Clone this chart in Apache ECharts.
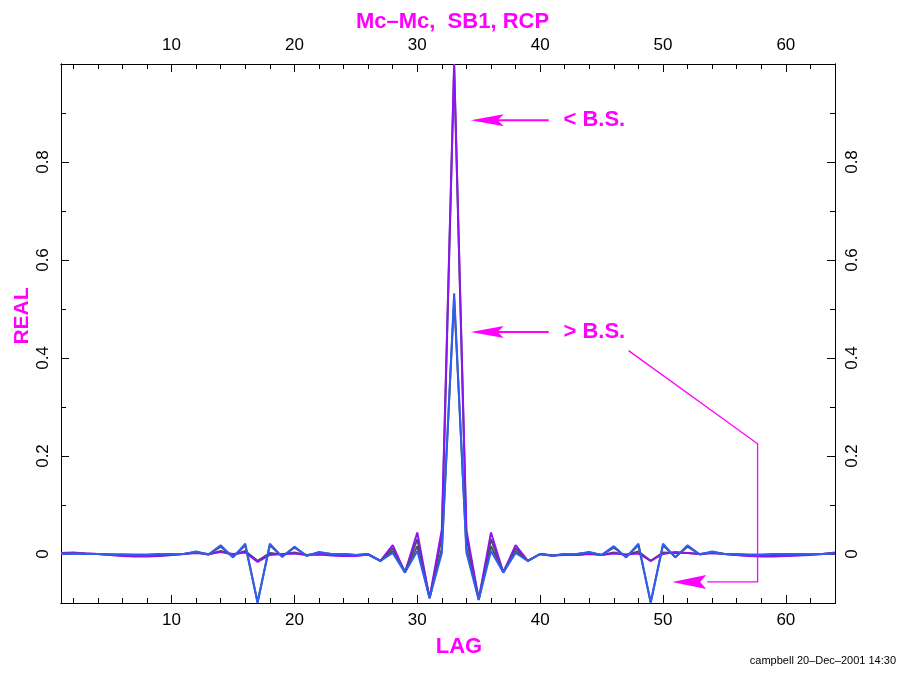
<!DOCTYPE html>
<html>
<head>
<meta charset="utf-8">
<script src="https://cdn.jsdelivr.net/npm/echarts@6/dist/echarts.min.js"></script>
<style>
  html, body { margin: 0; padding: 0; background: #ffffff; }
  #chart { width: 905px; height: 673px; }
</style>
</head>
<body>
<div id="chart"></div>
<script>
// Lag axis (channels 1..64)
const lags = [
  1, 2, 3, 4, 5, 6, 7, 8, 9, 10,
  11, 12, 13, 14, 15, 16, 17, 18, 19, 20,
  21, 22, 23, 24, 25, 26, 27, 28, 29, 30,
  31, 32, 33, 34, 35, 36, 37, 38, 39, 40,
  41, 42, 43, 44, 45, 46, 47, 48, 49, 50,
  51, 52, 53, 54, 55, 56, 57, 58, 59, 60,
  61, 62, 63, 64
];

// Real part of the correlation, below the bit-shift point (< B.S.)
const belowPurple = [
  0.002, 0.003, 0.001, 0.000, -0.002, -0.004, -0.005, -0.005, -0.004, -0.002,
  0.000, 0.002, 0.000, 0.004, 0.000, 0.003, -0.016, -0.002, 0.000, 0.001,
  -0.002, -0.001, -0.003, -0.004, -0.004, -0.001, -0.014, 0.018, -0.038, 0.044,
  -0.090, 0.050, 1.000, 0.048, -0.092, 0.044, -0.038, 0.018, -0.014, 0.000,
  -0.003, -0.002, -0.002, 0.000, -0.002, 0.001, -0.001, 0.001, -0.014, 0.000,
  0.004, 0.002, 0.000, 0.002, 0.000, -0.002, -0.004, -0.005, -0.005, -0.004,
  -0.003, -0.002, 0.000, 0.003
];
const belowGray = [
  0.001, 0.002, 0.001, 0.000, -0.001, -0.003, -0.004, -0.004, -0.003, -0.002,
  0.000, 0.003, -0.001, 0.006, -0.002, 0.006, -0.014, 0.002, -0.001, 0.003,
  -0.002, 0.000, -0.002, -0.003, -0.003, -0.001, -0.014, 0.012, -0.036, 0.030,
  -0.090, 0.036, 0.995, 0.034, -0.092, 0.030, -0.036, 0.012, -0.014, 0.000,
  -0.003, -0.001, -0.002, 0.001, -0.002, 0.003, -0.002, 0.005, -0.014, 0.003,
  0.002, 0.002, 0.000, 0.002, 0.000, -0.002, -0.003, -0.004, -0.004, -0.003,
  -0.002, -0.001, 0.000, 0.002
];

// Real part of the correlation, above the bit-shift point (> B.S.)
const aboveGray = [
  0.000, 0.001, 0.000, 0.000, -0.001, -0.001, -0.002, -0.002, -0.001, 0.000,
  0.000, 0.004, -0.001, 0.015, -0.006, 0.018, -0.098, 0.018, -0.005, 0.013,
  -0.003, 0.003, 0.000, 0.000, -0.002, 0.000, -0.014, 0.006, -0.037, 0.016,
  -0.090, 0.012, 0.520, 0.012, -0.093, 0.016, -0.037, 0.006, -0.014, 0.000,
  -0.003, 0.000, 0.000, 0.003, -0.002, 0.013, -0.006, 0.018, -0.098, 0.018,
  -0.006, 0.015, -0.001, 0.004, 0.000, -0.001, -0.002, -0.002, -0.001, -0.001,
  0.000, 0.000, 0.000, 0.001
];
const aboveBlue = [
  0.000, 0.001, 0.000, 0.000, -0.001, -0.001, -0.001, -0.001, 0.000, 0.000,
  0.000, 0.005, -0.001, 0.018, -0.007, 0.021, -0.100, 0.021, -0.006, 0.015,
  -0.004, 0.004, 0.000, 0.000, -0.002, 0.000, -0.014, 0.002, -0.038, 0.006,
  -0.090, 0.002, 0.532, 0.003, -0.094, 0.006, -0.038, 0.002, -0.014, 0.000,
  -0.004, 0.000, 0.000, 0.004, -0.002, 0.016, -0.007, 0.021, -0.100, 0.021,
  -0.007, 0.018, -0.001, 0.005, 0.000, 0.000, -0.001, -0.001, 0.000, 0.000,
  0.000, 0.000, 0.000, 0.001
];

// Tick positions
const xMajorTicks = [10, 20, 30, 40, 50, 60];
const xMinorTicks = [2, 4, 6, 8, 10, 12, 14, 16, 18, 20, 22, 24, 26, 28, 30, 32,
                     34, 36, 38, 40, 42, 44, 46, 48, 50, 52, 54, 56, 58, 60, 62, 64];
const yMajorTicks = [0, 0.2, 0.4, 0.6, 0.8];
const yMinorTicks = [0.1, 0.3, 0.5, 0.7, 0.9];

const FONT = '"Liberation Sans", Arial, Helvetica, sans-serif';
const MAGENTA = '#ff00ff';

const chart = echarts.init(document.getElementById('chart'), null, { renderer: 'canvas' });

function xAxisDef(position, values, major) {
  return {
    type: 'value', gridIndex: 0, position: position, min: 1, max: 64,
    axisLine: { show: true, onZero: false, lineStyle: { color: '#000', width: 1 } },
    axisTick: { show: true, inside: true, length: major ? 8 : 5, customValues: values,
                lineStyle: { color: '#000', width: 1 } },
    axisLabel: { show: major, customValues: values, color: '#000', fontSize: 17,
                 fontFamily: FONT, margin: position === 'bottom' ? 9 : 10 },
    splitLine: { show: false },
    minorTick: { show: false }
  };
}

function yAxisDef(position, values, major) {
  return {
    type: 'value', gridIndex: 0, position: position, min: -0.1, max: 1.0,
    axisLine: { show: true, onZero: false, lineStyle: { color: '#000', width: 1 } },
    axisTick: { show: true, inside: true, length: major ? 8 : 5, customValues: values,
                lineStyle: { color: '#000', width: 1 } },
    axisLabel: { show: major, customValues: values, color: '#000', fontSize: 17,
                 fontFamily: FONT, rotate: 90, margin: 9,
                 formatter: function (v) { return v === 0 ? '0' : String(v); } },
    splitLine: { show: false },
    minorTick: { show: false }
  };
}

function lineSeries(values, color) {
  return {
    type: 'line', xAxisIndex: 0, yAxisIndex: 0,
    data: lags.map(function (l, i) { return [l, values[i]]; }),
    symbol: 'none', showSymbol: false, clip: false,
    lineStyle: { color: color, width: 2 }
  };
}

chart.setOption({
  animation: false,
  backgroundColor: '#ffffff',
  title: {
    text: 'Mc\u2013Mc,  SB1, RCP',
    left: 'center', top: 6,
    textStyle: { color: MAGENTA, fontSize: 22, fontWeight: 'bold', fontFamily: FONT }
  },
  grid: { left: 61, right: 70, top: 64, bottom: 70, containLabel: false },
  xAxis: [
    xAxisDef('bottom', xMajorTicks, true),
    xAxisDef('bottom', xMinorTicks, false),
    xAxisDef('top', xMajorTicks, true),
    xAxisDef('top', xMinorTicks, false)
  ],
  yAxis: [
    yAxisDef('left', yMajorTicks, true),
    yAxisDef('left', yMinorTicks, false),
    yAxisDef('right', yMajorTicks, true),
    yAxisDef('right', yMinorTicks, false)
  ],
  series: [
    lineSeries(belowGray, '#4e4a63'),
    lineSeries(belowPurple, '#8a16f2'),
    lineSeries(aboveGray, '#4e4e60'),
    lineSeries(aboveBlue, '#2c5ff2')
  ]
});

// Annotation anchors, in data coordinates (lag, real)
const belowNote = { tip: [34.35, 0.885], tail: [40.7, 0.885], label: '< B.S.', labelAt: [41.9, 0.885] };
const aboveNote = { tip: [34.35, 0.453], tail: [40.7, 0.453], label: '> B.S.', labelAt: [41.9, 0.453] };
const leaderPath = [[47.2, 0.415], [57.7, 0.225], [57.7, -0.057], [53.6, -0.057]];
const leaderTip = [50.75, -0.057];

function toPx(pt) {
  return chart.convertToPixel({ xAxisIndex: 0, yAxisIndex: 0 }, pt);
}

function arrowHead(tipPt, len, half) {
  const t = toPx(tipPt);
  return {
    type: 'polygon', silent: true, z: 10,
    shape: { points: [[t[0], t[1]], [t[0] + len, t[1] - half], [t[0] + len - 6, t[1]], [t[0] + len, t[1] + half]] },
    style: { fill: MAGENTA }
  };
}

function arrowShaft(tipPt, tailPt, len) {
  const t = toPx(tipPt), e = toPx(tailPt);
  return {
    type: 'line', silent: true, z: 10,
    shape: { x1: t[0] + len - 6, y1: t[1], x2: e[0], y2: e[1] },
    style: { stroke: MAGENTA, lineWidth: 2 }
  };
}

function noteText(note) {
  const p = toPx(note.labelAt);
  return {
    type: 'text', silent: true, z: 10, x: p[0], y: p[1],
    style: { text: note.label, fill: MAGENTA, font: 'bold 22px ' + FONT,
             align: 'left', verticalAlign: 'middle' }
  };
}

const graphics = [
  arrowHead(belowNote.tip, 33, 6),
  arrowShaft(belowNote.tip, belowNote.tail, 33),
  noteText(belowNote),
  arrowHead(aboveNote.tip, 33, 6),
  arrowShaft(aboveNote.tip, aboveNote.tail, 33),
  noteText(aboveNote),
  {
    type: 'polyline', silent: true, z: 10,
    shape: { points: leaderPath.map(toPx) },
    style: { stroke: MAGENTA, lineWidth: 1.3, fill: null }
  },
  arrowHead(leaderTip, 34, 7),
  // axis titles
  {
    type: 'text', silent: true, x: 459, y: 647,
    style: { text: 'LAG', fill: MAGENTA, font: 'bold 22px ' + FONT, align: 'center', verticalAlign: 'middle' }
  },
  {
    type: 'text', silent: true, x: 22, y: 316, rotation: Math.PI / 2,
    style: { text: 'REAL', fill: MAGENTA, font: 'bold 21px ' + FONT, align: 'center', verticalAlign: 'middle' }
  },
  // plot stamp
  {
    type: 'text', silent: true, x: 896, y: 661,
    style: { text: 'campbell 20\u2013Dec\u20132001 14:30', fill: '#000', font: '11px ' + FONT,
             align: 'right', verticalAlign: 'middle' }
  }
];

chart.setOption({ graphic: graphics });
</script>
</body>
</html>
